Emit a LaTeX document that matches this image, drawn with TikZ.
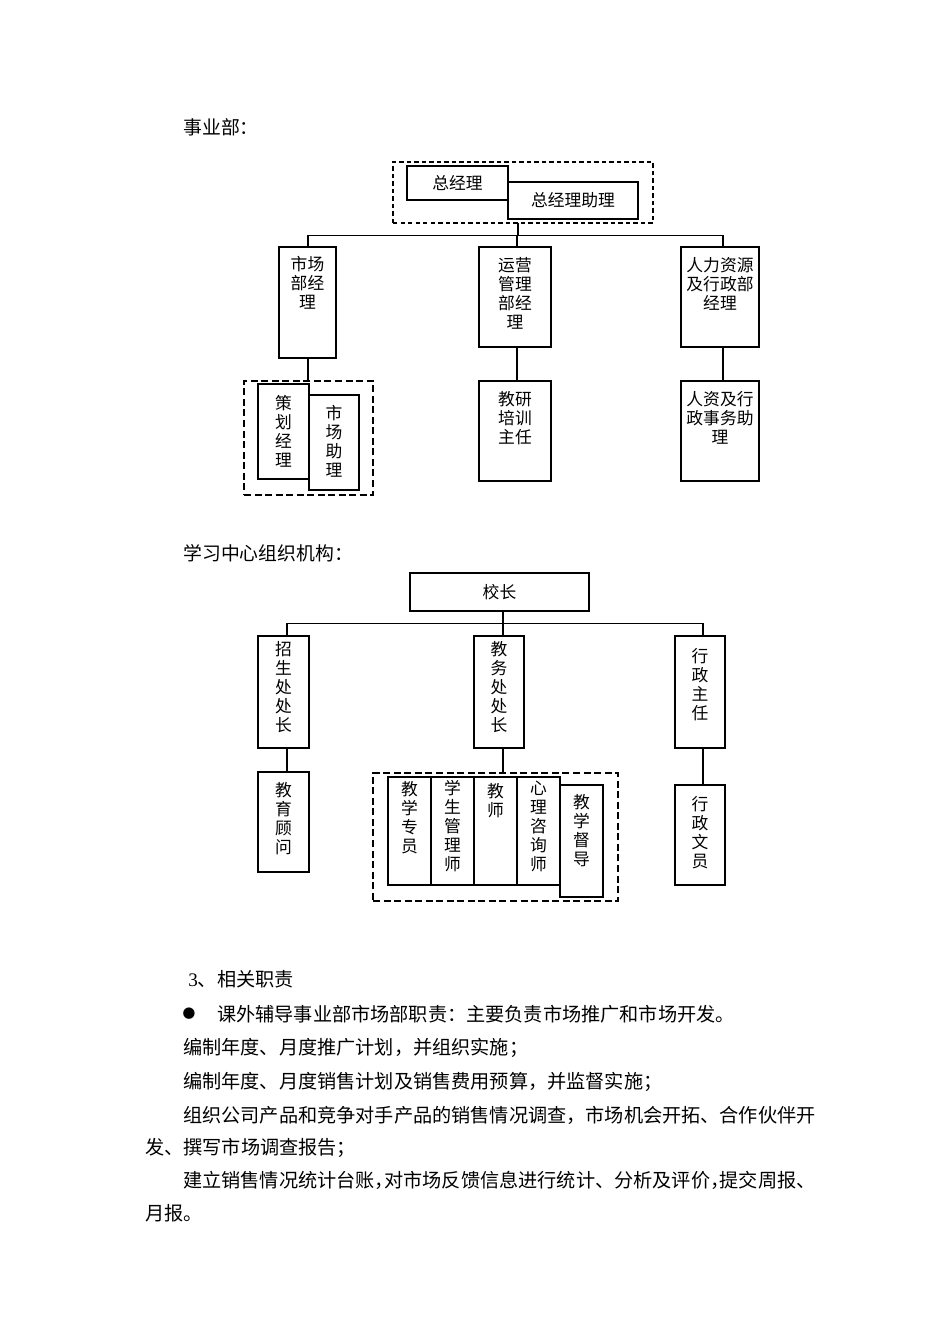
\documentclass[tikz,border=0pt]{standalone}
\usepackage{fontspec}
\setmainfont{Liberation Serif}
\newfontfamily\cjk{Noto Sans CJK SC}
\newfontfamily\lat{Liberation Serif}
\usetikzlibrary{fit}
\begin{document}
\begin{tikzpicture}[x=0.6263pt,y=-0.6263pt,
  box/.style={draw, line width=0.7pt, inner sep=0pt, outer sep=0pt},
  dashbox/.style={draw, line width=1.1pt, dash pattern=on 4.4pt off 2.2pt, inner sep=0pt, outer sep=0pt},
  finedash/.style={draw, line width=0.8pt, dash pattern=on 2.8pt off 1.9pt, inner sep=0pt, outer sep=0pt},
  conn/.style={line width=0.7pt},
  ctext/.style={inner sep=0pt, align=center, anchor=north, font=\cjk\fontsize{10.5pt}{11.9pt}\selectfont},
  ltext/.style={inner sep=0pt, font=\cjk\fontsize{10.5pt}{12pt}\selectfont},
  btext/.style={inner sep=0pt, anchor=west, font=\cjk\fontsize{12pt}{14pt}\selectfont},
  ttext/.style={inner sep=0pt, anchor=west, font=\cjk\fontsize{11.8pt}{14pt}\selectfont}]
\path[fill=white] (0,0) rectangle (950,1344);
\useasboundingbox (0,0) rectangle (950,1344);

% ---------- chart 1 ----------
\node[ttext] (t1) at (183,127) {事业部：};
\node[finedash, fit={(393,162) (653,223)}] (dash1) {};
\node[box, fit={(407,166) (508,200)}] (gm) {};
\node[box, fit={(508,182) (638,219)}] (gma) {};
\node[ltext] (gmT) at (457.5,183) {总经理};
\node[ltext] (gmaT) at (573,200.5) {总经理助理};

\node[box, fit={(279,247) (336,358)}] (mkt) {};
\node[box, fit={(479,247) (551,347)}] (ops) {};
\node[box, fit={(681,247) (759,347)}] (hr) {};
\node[ctext] (mktT) at (307.5,255.5) {市场\\部经\\理};
\node[ctext] (opsT) at (515,257.5) {运营\\管理\\部经\\理};
\node[ctext] (hrT) at (720,257.5) {人力资源\\及行政部\\经理};

\node[dashbox, fit={(244,381) (373,495)}] (dash2) {};
\node[box, fit={(258,384) (309,479)}] (ch) {};
\node[box, fit={(309,395) (359,490)}] (sc) {};
\node[ctext] (chT) at (283.5,395.5) {策\\划\\经\\理};
\node[ctext] (scT) at (334,404.5) {市\\场\\助\\理};

\node[box, fit={(479,381) (551,481)}] (jy) {};
\node[box, fit={(681,381) (759,481)}] (rz) {};
\node[ctext] (jyT) at (515,391.5) {教研\\培训\\主任};
\node[ctext] (rzT) at (720,391.5) {人资及行\\政事务助\\理};

\coordinate (b1) at (518,235.5);
\coordinate (k1) at (308,235.5);
\coordinate (k2) at (517,235.5);
\coordinate (k3) at (723,235.5);
\draw[conn] (b1 |- dash1.south) -- (b1);
\draw[conn] (k1 |- mkt.north) -- (k1) -- (k3) -- (k3 |- hr.north);
\draw[conn] (k2) -- (k2 |- ops.north);
\draw[conn] (k1 |- mkt.south) -- (k1 |- dash2.north);
\draw[conn] (k2 |- ops.south) -- (k2 |- jy.north);
\draw[conn] (k3 |- hr.south) -- (k3 |- rz.north);

% ---------- chart 2 ----------
\node[ttext] (t2) at (183,553) {学习中心组织机构：};
\node[box, fit={(410,573) (589,611)}] (xz) {};
\node[ltext] (xzT) at (499.5,592) {校长};

\node[box, fit={(258,636) (309,748)}] (zs) {};
\node[box, fit={(474,636) (524,748)}] (jw) {};
\node[box, fit={(675,636) (725,748)}] (xzr) {};
\node[ctext] (zsT) at (283.5,641.5) {招\\生\\处\\处\\长};
\node[ctext] (jwT) at (499,641.5) {教\\务\\处\\处\\长};
\node[ctext] (xzrT) at (700,648.5) {行\\政\\主\\任};

\node[box, fit={(258,772) (309,872)}] (jg) {};
\node[ctext] (jgT) at (283.5,782.5) {教\\育\\顾\\问};

\node[dashbox, fit={(373,773) (618,901)}] (dash3) {};
\node[box, fit={(388,777) (431,885)}] (jx1) {};
\node[box, fit={(431,777) (474,885)}] (jx2) {};
\node[box, fit={(474,777) (517,885)}] (jx3) {};
\node[box, fit={(517,777) (560,885)}] (jx4) {};
\node[box, fit={(560,785) (603,897)}] (jx5) {};
\node[ctext] (jx1T) at (409.5,781.5) {教\\学\\专\\员};
\node[ctext] (jx2T) at (452.5,779.5) {学\\生\\管\\理\\师};
\node[ctext] (jx3T) at (495.5,783.5) {教\\师};
\node[ctext] (jx4T) at (538.5,780.5) {心\\理\\咨\\询\\师};
\node[ctext] (jx5T) at (581.5,794.5) {教\\学\\督\\导};

\node[box, fit={(675,785) (725,885)}] (xw) {};
\node[ctext] (xwT) at (700,796.5) {行\\政\\文\\员};

\coordinate (m1) at (287,623.5);
\coordinate (m2) at (503,623.5);
\coordinate (m3) at (703,623.5);
\draw[conn] (m2 |- xz.south) -- (m2);
\draw[conn] (m1 |- zs.north) -- (m1) -- (m3) -- (m3 |- xzr.north);
\draw[conn] (m2) -- (m2 |- jw.north);
\draw[conn] (m1 |- zs.south) -- (m1 |- jg.north);
\draw[conn] (m2 |- jw.south) -- (m2 |- dash3.north);
\draw[conn] (m3 |- xzr.south) -- (m3 |- xw.north);

% ---------- text ----------
\node[btext] (s3) at (188,979) {{\lat 3}、相关职责};
\node[inner sep=0pt, font=\cjk\fontsize{8pt}{9pt}\selectfont] (bul) at (189,1014) {●};
\node[btext] (p0) at (217,1014) {课外辅导事业部市场部职责：主要负责市场推广和市场开发。};
\node[btext] (p1) at (183,1048) {编制年度、月度推广计划，并组织实施；};
\node[btext] (p2) at (183,1082) {编制年度、月度销售计划及销售费用预算，并监督实施；};
\node[btext] (p3) at (183,1115) {组织公司产品和竞争对手产品的销售情况调查，市场机会开拓、合作伙伴开};
\node[btext] (p3b) at (145,1148) {发、撰写市场调查报告；};
\node[btext] (p4) at (183,1180) {建立销售情况统计台账，\kern-.5em 对市场反馈信息进行统计、分析及评价，\kern-.5em 提交周报、};
\node[btext] (p4b) at (145,1213) {月报。};
\end{tikzpicture}
\end{document}
